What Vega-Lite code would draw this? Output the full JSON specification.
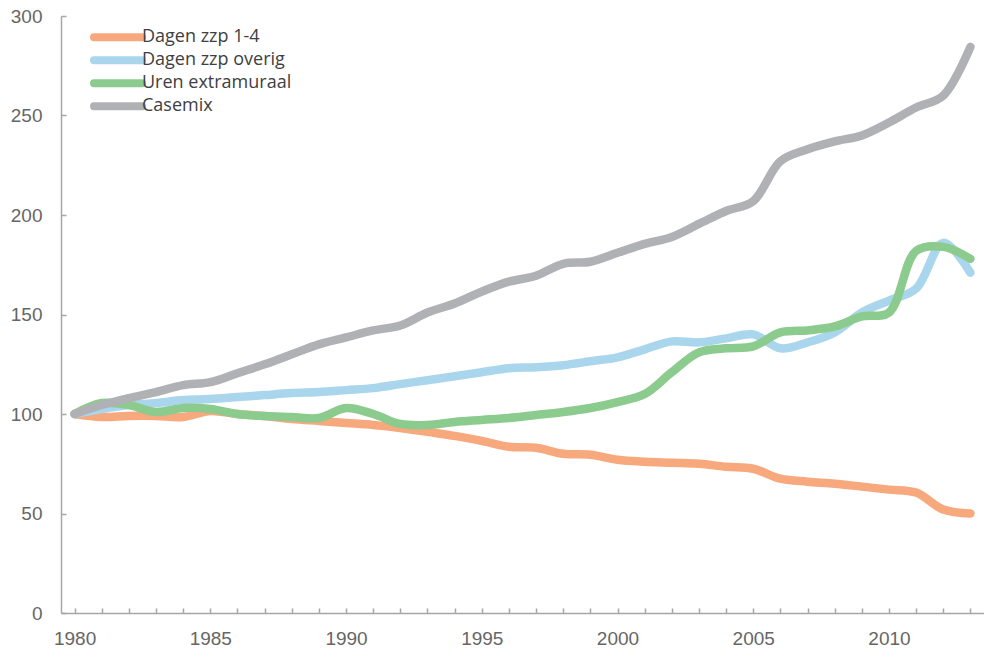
{
  "$schema": "https://vega.github.io/schema/vega-lite/v6.json",
  "width": 923,
  "height": 597,
  "autosize": {"type": "none"},
  "padding": {"left": 61, "top": 16, "right": 0, "bottom": 36},
  "background": "white",
  "config": {
    "view": {"stroke": null},
    "axis": {
      "domainColor": "#A6A6A6",
      "domainWidth": 1.5,
      "tickColor": "#A6A6A6",
      "tickWidth": 1.5,
      "tickSize": -5,
      "grid": false,
      "labelFont": "Liberation Sans",
      "labelFontSize": 19,
      "labelColor": "#666666",
      "title": null
    }
  },
  "data": {
    "values": [
      {"year": 1980, "Dagen zzp 1-4": 100, "Dagen zzp overig": 100, "Uren extramuraal": 100, "Casemix": 100},
      {"year": 1981, "Dagen zzp 1-4": 98.5, "Dagen zzp overig": 102.5, "Uren extramuraal": 105.5, "Casemix": 104.5},
      {"year": 1982, "Dagen zzp 1-4": 99, "Dagen zzp overig": 104.5, "Uren extramuraal": 104.5, "Casemix": 108},
      {"year": 1983, "Dagen zzp 1-4": 99, "Dagen zzp overig": 105.5, "Uren extramuraal": 101, "Casemix": 111},
      {"year": 1984, "Dagen zzp 1-4": 98.5, "Dagen zzp overig": 107, "Uren extramuraal": 103, "Casemix": 114.5},
      {"year": 1985, "Dagen zzp 1-4": 101.5, "Dagen zzp overig": 107.5, "Uren extramuraal": 102.5, "Casemix": 116},
      {"year": 1986, "Dagen zzp 1-4": 100, "Dagen zzp overig": 108.5, "Uren extramuraal": 100, "Casemix": 120.5},
      {"year": 1987, "Dagen zzp 1-4": 99, "Dagen zzp overig": 109.5, "Uren extramuraal": 99, "Casemix": 125},
      {"year": 1988, "Dagen zzp 1-4": 97.5, "Dagen zzp overig": 110.5, "Uren extramuraal": 98.5, "Casemix": 130},
      {"year": 1989, "Dagen zzp 1-4": 96.5, "Dagen zzp overig": 111, "Uren extramuraal": 98, "Casemix": 135},
      {"year": 1990, "Dagen zzp 1-4": 95.5, "Dagen zzp overig": 112, "Uren extramuraal": 103, "Casemix": 138.5},
      {"year": 1991, "Dagen zzp 1-4": 94.5, "Dagen zzp overig": 113, "Uren extramuraal": 100, "Casemix": 142},
      {"year": 1992, "Dagen zzp 1-4": 93, "Dagen zzp overig": 115, "Uren extramuraal": 95, "Casemix": 144.5},
      {"year": 1993, "Dagen zzp 1-4": 91, "Dagen zzp overig": 117, "Uren extramuraal": 94.5, "Casemix": 151},
      {"year": 1994, "Dagen zzp 1-4": 89, "Dagen zzp overig": 119, "Uren extramuraal": 96, "Casemix": 155.5},
      {"year": 1995, "Dagen zzp 1-4": 86.5, "Dagen zzp overig": 121, "Uren extramuraal": 97, "Casemix": 161.5},
      {"year": 1996, "Dagen zzp 1-4": 83.5, "Dagen zzp overig": 123, "Uren extramuraal": 98, "Casemix": 166.5},
      {"year": 1997, "Dagen zzp 1-4": 83, "Dagen zzp overig": 123.5, "Uren extramuraal": 99.5, "Casemix": 169.5},
      {"year": 1998, "Dagen zzp 1-4": 80, "Dagen zzp overig": 124.5, "Uren extramuraal": 101, "Casemix": 175.5},
      {"year": 1999, "Dagen zzp 1-4": 79.5, "Dagen zzp overig": 126.5, "Uren extramuraal": 103, "Casemix": 176.5},
      {"year": 2000, "Dagen zzp 1-4": 77, "Dagen zzp overig": 128.5, "Uren extramuraal": 106, "Casemix": 181},
      {"year": 2001, "Dagen zzp 1-4": 76, "Dagen zzp overig": 132.5, "Uren extramuraal": 110, "Casemix": 185.5},
      {"year": 2002, "Dagen zzp 1-4": 75.5, "Dagen zzp overig": 136.5, "Uren extramuraal": 121, "Casemix": 189},
      {"year": 2003, "Dagen zzp 1-4": 75, "Dagen zzp overig": 136, "Uren extramuraal": 131, "Casemix": 195.5},
      {"year": 2004, "Dagen zzp 1-4": 73.5, "Dagen zzp overig": 138, "Uren extramuraal": 133, "Casemix": 202},
      {"year": 2005, "Dagen zzp 1-4": 72.5, "Dagen zzp overig": 140, "Uren extramuraal": 134, "Casemix": 207},
      {"year": 2006, "Dagen zzp 1-4": 67.5, "Dagen zzp overig": 133, "Uren extramuraal": 141, "Casemix": 227},
      {"year": 2007, "Dagen zzp 1-4": 66, "Dagen zzp overig": 136, "Uren extramuraal": 142, "Casemix": 233},
      {"year": 2008, "Dagen zzp 1-4": 65, "Dagen zzp overig": 141, "Uren extramuraal": 144, "Casemix": 237},
      {"year": 2009, "Dagen zzp 1-4": 63.5, "Dagen zzp overig": 151, "Uren extramuraal": 149, "Casemix": 240},
      {"year": 2010, "Dagen zzp 1-4": 62, "Dagen zzp overig": 157, "Uren extramuraal": 151, "Casemix": 246.5},
      {"year": 2011, "Dagen zzp 1-4": 60.5, "Dagen zzp overig": 163, "Uren extramuraal": 182, "Casemix": 254},
      {"year": 2012, "Dagen zzp 1-4": 52, "Dagen zzp overig": 186, "Uren extramuraal": 184, "Casemix": 260},
      {"year": 2013, "Dagen zzp 1-4": 50, "Dagen zzp overig": 171, "Uren extramuraal": 178, "Casemix": 284.5}
    ]
  },
  "transform": [
    {"fold": ["Dagen zzp 1-4", "Dagen zzp overig", "Uren extramuraal", "Casemix"], "as": ["reeks", "index"]}
  ],
  "mark": {"type": "line", "interpolate": "catmull-rom", "strokeWidth": 8.5, "strokeCap": "round", "strokeJoin": "round"},
  "encoding": {
    "x": {
      "field": "year",
      "type": "quantitative",
      "scale": {"domain": [1979.5, 2013.5], "nice": false, "zero": false},
      "axis": {
        "values": [1980, 1981, 1982, 1983, 1984, 1985, 1986, 1987, 1988, 1989, 1990, 1991, 1992, 1993, 1994, 1995, 1996, 1997, 1998, 1999, 2000, 2001, 2002, 2003, 2004, 2005, 2006, 2007, 2008, 2009, 2010, 2011, 2012, 2013],
        "format": "d",
        "labelExpr": "datum.value % 5 === 0 ? datum.label : ''",
        "labelPadding": 21,
        "labelOverlap": false
      }
    },
    "y": {
      "field": "index",
      "type": "quantitative",
      "scale": {"domain": [0, 300], "nice": false},
      "axis": {"values": [0, 50, 100, 150, 200, 250, 300], "labelPadding": 24}
    },
    "color": {
      "field": "reeks",
      "type": "nominal",
      "sort": ["Dagen zzp 1-4", "Dagen zzp overig", "Uren extramuraal", "Casemix"],
      "scale": {
        "domain": ["Dagen zzp 1-4", "Dagen zzp overig", "Uren extramuraal", "Casemix"],
        "range": ["#F7A87C", "#A9D6EC", "#8BCB8D", "#B0B1B5"]
      },
      "legend": {
        "title": null,
        "orient": "none",
        "legendX": 28,
        "legendY": 10,
        "symbolType": "M-1,0H11",
        "symbolSize": 64,
        "symbolStrokeWidth": 8,
        "symbolOffset": 0,
        "labelOffset": 35,
        "labelFont": "Open Sans",
        "labelFontSize": 18,
        "labelColor": "#404040",
        "clipHeight": 22.5,
        "rowPadding": 0,
        "padding": 0,
        "encode": {"symbols": {"update": {"strokeCap": {"value": "round"}}}}
      }
    }
  }
}
